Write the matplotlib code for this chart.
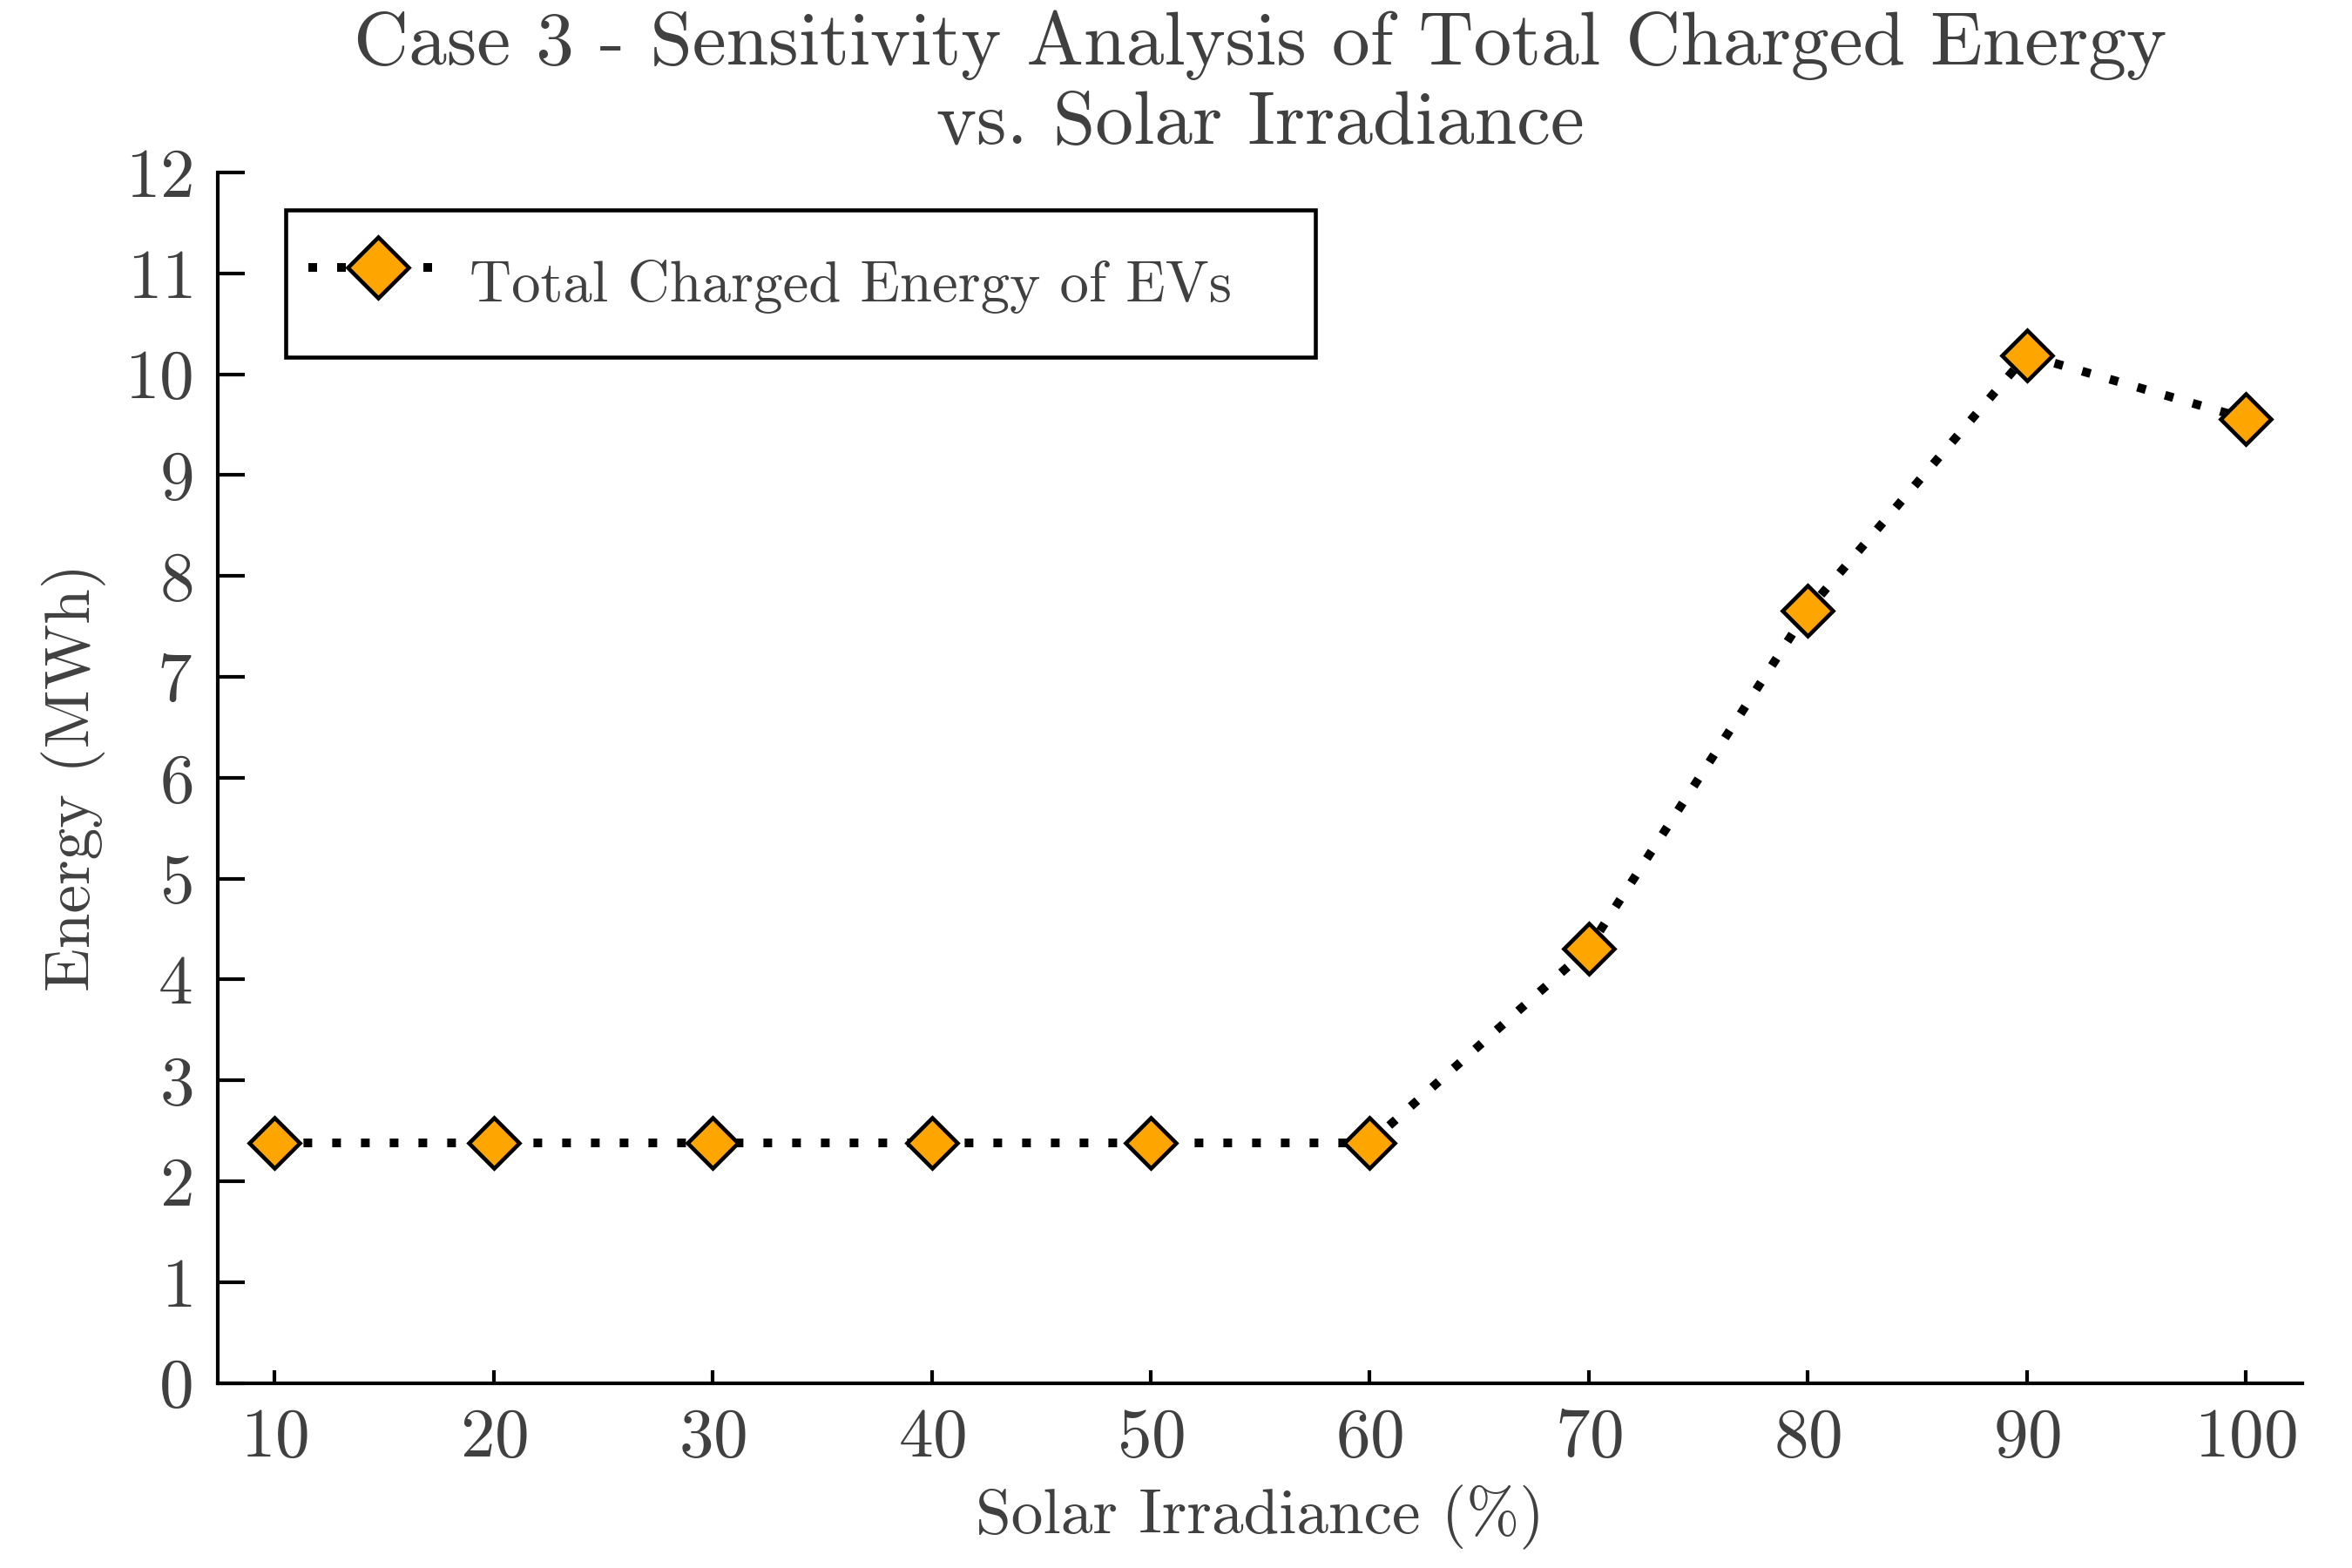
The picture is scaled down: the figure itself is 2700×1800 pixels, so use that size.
import matplotlib
matplotlib.use('Agg')
import matplotlib.pyplot as plt

# data
irradiance = [10, 20, 30, 40, 50, 60, 70, 80, 90, 100]
energy = [2.38, 2.38, 2.38, 2.38, 2.38, 2.38, 4.31, 7.66, 10.19, 9.56]
y_ticks = list(range(0, 13))

text_col = '#404040'
plt.rcParams['font.family'] = ['cmr10', 'DejaVu Serif']
plt.rcParams['axes.unicode_minus'] = False
plt.rcParams['axes.formatter.use_mathtext'] = True

fig = plt.figure(figsize=(9, 6), dpi=300)
ax = fig.add_axes([0.0926, 0.118, 0.8864, 0.772])

ax.plot(irradiance, energy, linestyle=(0, (1, 2.3)), color='black', linewidth=2.4,
        marker='D', markersize=10, markerfacecolor='orange',
        markeredgecolor='black', markeredgewidth=1.1,
        label='Total Charged Energy of EVs')

ax.set_xlim(7.4, 102.6)
ax.set_ylim(0, 12)
ax.set_xticks(irradiance)
ax.set_yticks(y_ticks)

for s in ['top', 'right']:
    ax.spines[s].set_visible(False)
for s in ['left', 'bottom']:
    ax.spines[s].set_linewidth(1.0)

ax.tick_params(direction='in', width=1.0, labelsize=19, labelcolor=text_col, pad=7)
ax.tick_params(axis='x', length=3.6)
ax.tick_params(axis='y', length=7.5)

ax.set_xlabel('Solar Irradiance (%)', fontsize=17.6, color=text_col, labelpad=4)
ax.set_ylabel('Energy (MWh)', fontsize=17.6, color=text_col, labelpad=5)
ax.set_title('Case 3 - Sensitivity Analysis of Total Charged Energy\nvs. Solar Irradiance',
             fontsize=21, color=text_col, pad=8)

leg = ax.legend(loc='upper left', bbox_to_anchor=(0.0324, 0.5, 0.494, 0.469),
                mode='expand', borderaxespad=0,
                fontsize=16, fancybox=False, framealpha=1, edgecolor='black',
                borderpad=0.4, handlelength=2.4, handleheight=2.3,
                handletextpad=0.37, markerscale=1.2)
leg.get_frame().set_linewidth(1.1)
for t in leg.get_texts():
    t.set_color(text_col)

fig.savefig('out.png', dpi=300)
